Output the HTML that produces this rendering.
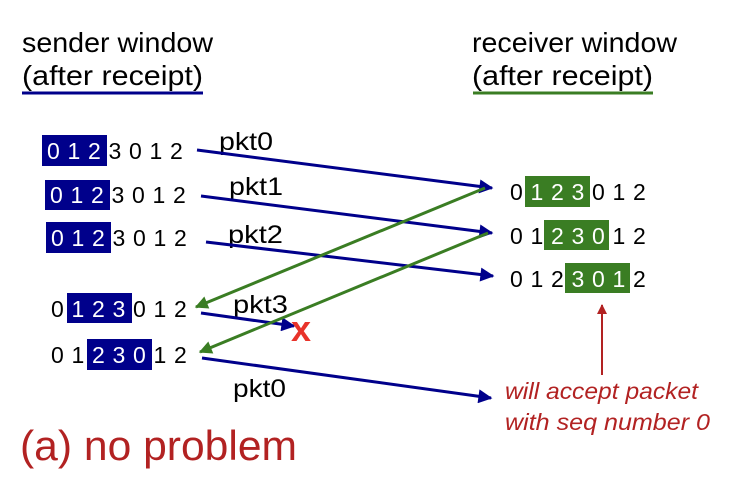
<!DOCTYPE html>
<html><head><style>html,body{margin:0;padding:0;background:#fff}svg{display:block}</style></head>
<body>
<svg width="732" height="490" viewBox="0 0 732 490" xmlns="http://www.w3.org/2000/svg" font-family="Liberation Sans, sans-serif">
<defs>
<marker id="ab" viewBox="0 0 10 10" refX="9" refY="5" markerWidth="20" markerHeight="14" markerUnits="userSpaceOnUse" orient="auto"><path d="M0,0 L10,5 L0,10 z" fill="#00008b"/></marker>
<marker id="ag" viewBox="0 0 10 10" refX="9" refY="5" markerWidth="18" markerHeight="13" markerUnits="userSpaceOnUse" orient="auto"><path d="M0,0 L10,5 L0,10 z" fill="#3a7d23"/></marker>
<marker id="ar" viewBox="0 0 10 10" refX="9" refY="5" markerWidth="12" markerHeight="10" markerUnits="userSpaceOnUse" orient="auto"><path d="M0,0 L10,5 L0,10 z" fill="#b22222"/></marker>
</defs>
<g font-size="28" fill="#000">
<text x="22" y="52" textLength="191" lengthAdjust="spacingAndGlyphs">sender window</text>
<text x="22" y="85" textLength="181" lengthAdjust="spacingAndGlyphs">(after receipt)</text>
<text x="472" y="52" textLength="205" lengthAdjust="spacingAndGlyphs">receiver window</text>
<text x="472" y="85" textLength="181" lengthAdjust="spacingAndGlyphs">(after receipt)</text>
</g>
<line x1="22" y1="93" x2="203" y2="93" stroke="#00008b" stroke-width="3"/>
<line x1="473" y1="93" x2="653" y2="93" stroke="#3a7d23" stroke-width="3"/>
<rect x="42" y="135" width="65" height="31" fill="#00008b"/>
<rect x="45" y="180" width="65" height="30" fill="#00008b"/>
<rect x="46" y="222" width="65" height="31" fill="#00008b"/>
<rect x="67" y="293" width="65" height="30" fill="#00008b"/>
<rect x="87" y="339" width="65" height="31" fill="#00008b"/>
<rect x="525" y="176" width="65" height="31" fill="#3a7d23"/>
<rect x="544" y="220" width="65" height="30" fill="#3a7d23"/>
<rect x="565" y="263" width="65" height="30" fill="#3a7d23"/>
<g font-size="23">
<text y="159"><tspan x="47" fill="#fff">0</tspan><tspan x="67.5" fill="#fff">1</tspan><tspan x="88" fill="#fff">2</tspan><tspan x="108.5">3</tspan><tspan x="129">0</tspan><tspan x="149.5">1</tspan><tspan x="170">2</tspan></text>
<text y="203"><tspan x="50" fill="#fff">0</tspan><tspan x="70.5" fill="#fff">1</tspan><tspan x="91" fill="#fff">2</tspan><tspan x="111.5">3</tspan><tspan x="132">0</tspan><tspan x="152.5">1</tspan><tspan x="173">2</tspan></text>
<text y="246"><tspan x="51" fill="#fff">0</tspan><tspan x="71.5" fill="#fff">1</tspan><tspan x="92" fill="#fff">2</tspan><tspan x="112.5">3</tspan><tspan x="133">0</tspan><tspan x="153.5">1</tspan><tspan x="174">2</tspan></text>
<text y="317"><tspan x="51">0</tspan><tspan x="71.5" fill="#fff">1</tspan><tspan x="92" fill="#fff">2</tspan><tspan x="112.5" fill="#fff">3</tspan><tspan x="133">0</tspan><tspan x="153.5">1</tspan><tspan x="174">2</tspan></text>
<text y="363"><tspan x="51">0</tspan><tspan x="71.5">1</tspan><tspan x="92" fill="#fff">2</tspan><tspan x="112.5" fill="#fff">3</tspan><tspan x="133" fill="#fff">0</tspan><tspan x="153.5">1</tspan><tspan x="174">2</tspan></text>
<text y="200"><tspan x="510">0</tspan><tspan x="530.5" fill="#fff">1</tspan><tspan x="551" fill="#fff">2</tspan><tspan x="571.5" fill="#fff">3</tspan><tspan x="592">0</tspan><tspan x="612.5">1</tspan><tspan x="633">2</tspan></text>
<text y="244"><tspan x="510">0</tspan><tspan x="530.5">1</tspan><tspan x="551" fill="#fff">2</tspan><tspan x="571.5" fill="#fff">3</tspan><tspan x="592" fill="#fff">0</tspan><tspan x="612.5">1</tspan><tspan x="633">2</tspan></text>
<text y="287"><tspan x="510">0</tspan><tspan x="530.5">1</tspan><tspan x="551">2</tspan><tspan x="571.5" fill="#fff">3</tspan><tspan x="592" fill="#fff">0</tspan><tspan x="612.5" fill="#fff">1</tspan><tspan x="633">2</tspan></text>
</g>
<g font-size="25">
<text x="219" y="150" textLength="54" lengthAdjust="spacingAndGlyphs">pkt0</text>
<text x="229" y="195" textLength="54" lengthAdjust="spacingAndGlyphs">pkt1</text>
<text x="228" y="243" textLength="55" lengthAdjust="spacingAndGlyphs">pkt2</text>
<text x="233" y="313" textLength="55" lengthAdjust="spacingAndGlyphs">pkt3</text>
<text x="233" y="397" textLength="53" lengthAdjust="spacingAndGlyphs">pkt0</text>
</g>
<g stroke-width="3" fill="none">
<line x1="197" y1="150" x2="492" y2="188" stroke="#00008b" marker-end="url(#ab)"/>
<line x1="201" y1="196" x2="492" y2="233" stroke="#00008b" marker-end="url(#ab)"/>
<line x1="206" y1="242" x2="493" y2="276" stroke="#00008b" marker-end="url(#ab)"/>
<line x1="201" y1="313" x2="294" y2="326" stroke="#00008b" marker-end="url(#ab)"/>
<line x1="202" y1="358" x2="491" y2="398" stroke="#00008b" marker-end="url(#ab)"/>
<line x1="485" y1="188" x2="196" y2="307" stroke="#3a7d23" marker-end="url(#ag)"/>
<line x1="488" y1="233" x2="200" y2="352" stroke="#3a7d23" marker-end="url(#ag)"/>
<line x1="602" y1="375" x2="602" y2="305" stroke="#b22222" stroke-width="2" marker-end="url(#ar)"/>
</g>
<text x="291" y="341" font-size="36" font-weight="bold" fill="#e8332a">x</text>
<g font-size="23" font-style="italic" fill="#b22222">
<text x="505" y="399" textLength="193" lengthAdjust="spacingAndGlyphs">will accept packet</text>
<text x="505" y="430" textLength="205" lengthAdjust="spacingAndGlyphs">with seq number 0</text>
</g>
<text x="20" y="460" font-size="42" fill="#b22222" textLength="277" lengthAdjust="spacingAndGlyphs">(a) no problem</text>
</svg>
</body></html>
